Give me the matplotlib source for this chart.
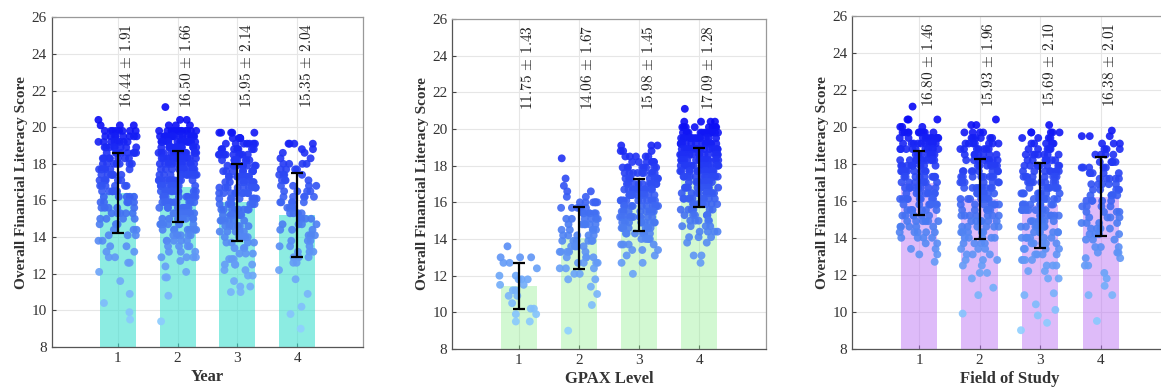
import numpy as np
import matplotlib
matplotlib.use("Agg")
import matplotlib.pyplot as plt
from matplotlib.colors import LinearSegmentedColormap

# ---------------- data ----------------
categories = [1, 2, 3, 4]
xlabels = ["Year", "GPAX Level", "Field of Study"]
ylabel = "Overall Financial Literacy Score"

bar_heights = [
    [16.39, 16.75, 15.89, 15.20],
    [11.44, 14.07, 15.86, 17.35],
    [16.98, 16.10, 15.76, 16.21],
]
err_low = [
    [14.21, 14.84, 13.80, 12.91],
    [10.18, 12.38, 14.45, 15.76],
    [15.22, 13.95, 13.47, 14.10],
]
err_high = [
    [18.57, 18.72, 17.97, 17.50],
    [12.67, 15.73, 17.27, 18.95],
    [18.71, 18.28, 18.05, 18.37],
]
mean_labels = [
    ["16.44", "16.50", "15.95", "15.35"],
    ["11.75", "14.06", "15.98", "17.09"],
    ["16.80", "15.93", "15.69", "16.38"],
]
sd_labels = [
    ["1.91", "1.66", "2.14", "2.04"],
    ["1.43", "1.67", "1.45", "1.28"],
    ["1.46", "1.96", "2.10", "2.01"],
]

# individual scores: (score, count) pairs per group
year1 = [(20.4,1),(20.1,3),(19.8,8),(19.5,8),(19.2,8),(18.9,8),(18.6,8),(18.3,7),(18.0,7),(17.7,7),
         (17.4,6),(17.1,6),(16.8,6),(16.5,6),(16.2,5),(15.9,5),(15.6,5),(15.3,5),(15.0,4),(14.7,4),
         (14.4,3),(14.1,3),(13.8,2),(13.5,2),(13.2,2),(12.9,2),(12.6,2),(12.1,1),(11.6,1),(10.9,1),
         (10.4,1),(9.9,1),(9.5,1)]
year2 = [(21.1,1),(20.4,2),(20.1,3),(19.8,14),(19.5,14),(19.2,14),(18.9,14),(18.6,14),(18.3,13),
         (18.0,13),(17.7,13),(17.4,12),(17.1,12),(16.8,12),(16.5,11),(16.2,10),(15.9,10),(15.6,9),
         (15.3,9),(15.0,8),(14.7,8),(14.4,7),(14.1,6),(13.8,5),(13.5,4),(13.2,3),(12.9,4),(12.7,1),
         (12.4,1),(12.1,1),(11.8,2),(10.8,1),(9.4,1)]
year3 = [(19.7,5),(19.4,6),(19.1,7),(18.8,8),(18.5,9),(18.2,9),(17.9,9),(17.6,9),(17.3,9),(17.0,9),
         (16.7,9),(16.4,9),(16.1,9),(15.8,8),(15.5,8),(15.2,7),(14.9,6),(14.6,6),(14.3,5),(14.0,5),
         (13.7,4),(13.4,3),(13.1,3),(12.8,3),(12.5,4),(12.2,2),(11.9,2),(11.6,1),(11.3,2),(11.0,2)]
year4 = [(19.1,4),(18.8,2),(18.6,2),(18.3,2),(18.0,4),(17.7,4),(17.4,4),(17.1,4),(16.8,4),(16.5,4),
         (16.2,5),(15.9,5),(15.6,4),(15.3,4),(15.0,4),(14.7,4),(14.4,3),(14.1,3),(13.8,3),(13.5,3),
         (13.2,3),(12.9,3),(12.6,2),(12.2,1),(11.7,1),(10.9,1),(10.2,1),(9.8,1),(9.0,1)]

gpax1 = [(13.6,1),(13.0,3),(12.7,2),(12.4,1),(12.0,2),(11.8,3),(11.5,2),(11.2,2),(10.9,2),(10.5,1),
         (10.2,2),(9.9,2),(9.5,2)]
gpax2 = [(18.4,1),(17.3,1),(16.9,1),(16.6,2),(16.3,2),(16.0,6),(15.7,6),(15.4,6),(15.1,6),(14.8,6),
         (14.5,5),(14.2,5),(13.9,6),(13.6,5),(13.3,5),(13.0,4),(12.7,4),(12.4,3),(12.1,2),(11.8,2),
         (11.4,1),(11.0,1),(10.4,1),(9.0,1)]
gpax3 = [(19.1,3),(18.8,3),(18.5,5),(18.2,7),(17.9,8),(17.6,9),(17.3,10),(17.0,10),(16.7,11),(16.4,11),
         (16.1,11),(15.8,11),(15.5,11),(15.2,10),(14.9,9),(14.6,8),(14.3,7),(14.0,5),(13.7,4),(13.4,3),
         (13.1,2),(12.7,2),(12.1,1)]
gpax4 = [(21.1,1),(20.4,4),(20.1,8),(19.8,15),(19.5,16),(19.2,16),(18.9,16),(18.6,15),(18.3,15),
         (18.0,14),(17.7,14),(17.4,13),(17.1,12),(16.8,11),(16.5,10),(16.2,9),(15.9,8),(15.6,7),
         (15.3,6),(15.0,5),(14.7,4),(14.4,4),(14.1,3),(13.8,2),(13.1,2),(12.7,1)]

field1 = [(21.1,1),(20.4,3),(20.0,3),(19.7,10),(19.4,10),(19.1,10),(18.8,10),(18.5,10),(18.2,10),
          (17.9,9),(17.6,9),(17.3,9),(17.0,8),(16.7,8),(16.4,8),(16.1,8),(15.8,7),(15.5,7),(15.2,6),
          (14.9,6),(14.6,5),(14.3,5),(14.0,4),(13.7,2),(13.4,2),(13.1,2),(12.7,1)]
field2 = [(20.4,1),(20.1,2),(19.7,4),(19.4,6),(19.1,7),(18.8,7),(18.5,7),(18.2,8),(17.9,8),(17.6,8),
          (17.3,8),(17.0,8),(16.7,8),(16.4,8),(16.1,8),(15.8,8),(15.5,7),(15.2,7),(14.9,6),(14.6,6),
          (14.3,5),(14.0,5),(13.7,4),(13.4,3),(13.1,3),(12.8,3),(12.5,2),(12.1,2),(11.8,1),(11.3,1),
          (10.9,1),(9.9,1)]
field3 = [(20.1,1),(19.7,5),(19.4,4),(19.1,6),(18.8,6),(18.5,7),(18.2,7),(17.9,8),(17.6,8),(17.3,8),
          (17.0,8),(16.7,8),(16.4,8),(16.1,8),(15.8,8),(15.5,8),(15.2,7),(14.9,7),(14.6,7),(14.3,6),
          (14.0,6),(13.7,5),(13.4,4),(13.1,4),(12.8,4),(12.5,3),(12.2,2),(11.8,2),(11.0,1),(10.9,1),
          (10.4,1),(10.1,1),(9.8,1),(9.4,1),(9.0,1)]
field4 = [(19.8,1),(19.5,3),(19.1,3),(18.8,3),(18.5,4),(18.1,5),(17.8,5),(17.5,5),(17.2,5),(16.9,5),
          (16.6,5),(16.3,5),(16.0,5),(15.7,4),(15.4,4),(15.1,4),(14.8,4),(14.5,4),(14.2,4),(13.9,3),
          (13.5,3),(13.2,3),(12.9,2),(12.5,2),(12.1,1),(11.8,1),(11.4,1),(10.9,2),(9.5,1)]

groups = [[year1, year2, year3, year4],
          [gpax1, gpax2, gpax3, gpax4],
          [field1, field2, field3, field4]]

# ---------------- style ----------------
bar_colors = [(64/255, 224/255, 208/255, 0.6),
              (144/255, 238/255, 144/255, 0.4),
              (190/255, 120/255, 245/255, 0.5)]
cmap = LinearSegmentedColormap.from_list("pts", ["#8fd0ff", "#4a7cf2", "#0808f5"])

# axes placement in pixels (left, top, right, bottom)
W, H = 1161, 388
boxes = [(51.7, 17.3, 363.3, 347.0),
         (452.3, 19.0, 765.7, 349.0),
         (852.3, 16.0, 1167.6, 348.7)]

plt.rcParams['mathtext.fontset'] = 'cm'
fig = plt.figure(figsize=(W/100, H/100), dpi=100)

for p in range(3):
    l, t, r, b = boxes[p]
    ax = fig.add_axes([l/W, 1 - b/H, (r-l)/W, (b-t)/H])
    ax.set_xlim(-0.1, 5.1)
    ax.set_ylim(8, 26)
    ax.grid(True, color="#e6e6e6", linewidth=0.8)
    ax.set_axisbelow(True)
    ax.bar(categories, bar_heights[p], width=0.6, color=bar_colors[p], zorder=2)
    for i, c in enumerate(categories):
        vals = np.repeat([v for v, n in groups[p][i]], [n for v, n in groups[p][i]])
        k = np.arange(len(vals))
        # deterministic hash spread for horizontal jitter positions
        h = np.sin(k * 12.9898 + (p * 4 + i) * 78.233) * 43758.5453
        u = h - np.floor(h)
        jit = (u - 0.5) * 0.64
        ax.scatter(c + jit, vals, s=32, c=vals, cmap=cmap, vmin=9, vmax=20.5,
                   edgecolors="none", alpha=0.9, zorder=3)
    yerr = [np.array(bar_heights[p]) - np.array(err_low[p]),
            np.array(err_high[p]) - np.array(bar_heights[p])]
    ax.errorbar(categories, bar_heights[p], yerr=yerr, fmt="none", ecolor="black",
                elinewidth=1.6, capsize=4, capthick=1.6, zorder=4)
    for i, c in enumerate(categories):
        ax.text(c + 0.15, 21.05, r"$%s\,\pm\,%s$" % (mean_labels[p][i], sd_labels[p][i]),
                rotation=90, ha="center", va="bottom", fontsize=11, color="#222222",
                zorder=5, clip_on=False)
    ax.set_xticks(categories)
    ax.set_yticks(np.arange(8, 27, 2))
    ax.tick_params(axis="both", labelsize=11, colors="#444444", length=3, direction="in",
                   labelcolor="#333333")
    for lab in ax.get_xticklabels() + ax.get_yticklabels():
        lab.set_fontfamily("Liberation Serif")
    for s in ax.spines.values():
        s.set_color("#999999")
        s.set_linewidth(0.9)
    ax.spines["left"].set_color("#555555")
    ax.spines["bottom"].set_color("#555555")
    ax.set_xlabel(xlabels[p], fontsize=12, fontweight="bold", family="Liberation Serif",
                  color="#333333", labelpad=3)
    ax.set_ylabel(ylabel, fontsize=11, fontweight="bold", family="Liberation Serif",
                  color="#333333", labelpad=2.5)

fig.savefig("out.png", dpi=100)
